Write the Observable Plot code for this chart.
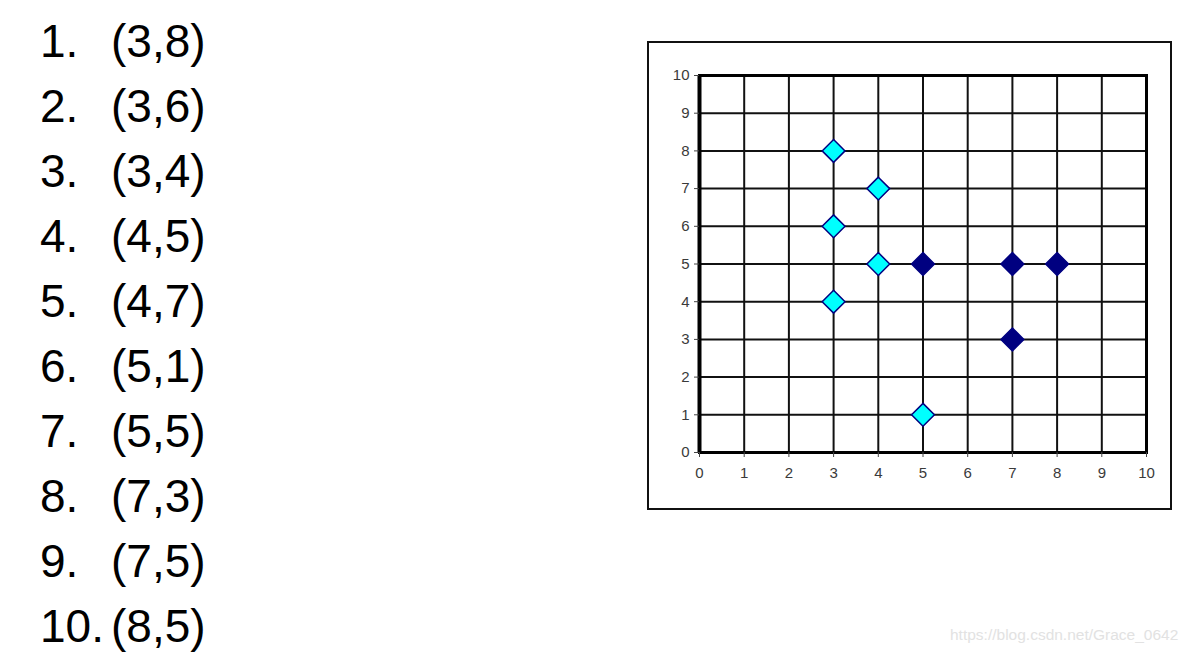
<!DOCTYPE html>
<html>
<head>
<meta charset="utf-8">
<script src="https://cdn.jsdelivr.net/npm/d3@7"></script>
<script src="https://cdn.jsdelivr.net/npm/@observablehq/plot@0.6"></script>
<style>
  html, body { margin: 0; padding: 0; background: #fff; }
  body { width: 1192px; height: 654px; position: relative; overflow: hidden; font-family: "Liberation Sans", Arial, sans-serif; }
  #list { position: absolute; left: 40px; top: 9px; font-size: 46px; line-height: 65px; color: #000; }
  #list .row { white-space: nowrap; }
  #list .num { display: inline-block; width: 71px; }
  #box { position: absolute; left: 647px; top: 41px; width: 525px; height: 469px; box-sizing: border-box; border: 2px solid #111; }
  #chart { position: absolute; left: 649px; top: 43px; }
  #wm { position: absolute; left: 950px; top: 626px; font-size: 15.5px; color: #e2e2e2; white-space: nowrap; }
</style>
</head>
<body>
<div id="list"></div>
<div id="box"></div>
<div id="chart"></div>
<div id="wm">https://blog.csdn.net/Grace_0642</div>
<script>
// Data
const xValues = [3, 3, 3, 4, 4, 5, 5, 7, 7, 8];
const yValues = [8, 6, 4, 5, 7, 1, 5, 3, 5, 5];
const clusters = ["A", "A", "A", "A", "A", "A", "B", "B", "B", "B"];
const xTicks = [0, 1, 2, 3, 4, 5, 6, 7, 8, 9, 10];
const yTicks = [0, 1, 2, 3, 4, 5, 6, 7, 8, 9, 10];
const clusterColors = ["#00FFFF", "#000080"];

const points = xValues.map((x, i) => ({ id: i + 1, x, y: yValues[i], cluster: clusters[i] }));

// Left list
const list = document.getElementById("list");
points.forEach(p => {
  const row = document.createElement("div");
  row.className = "row";
  const num = document.createElement("span");
  num.className = "num";
  num.textContent = p.id + ".";
  const pt = document.createElement("span");
  pt.textContent = "(" + p.x + "," + p.y + ")";
  row.appendChild(num);
  row.appendChild(pt);
  list.appendChild(row);
});

const chart = Plot.plot({
  width: 520,
  height: 464,
  marginLeft: 50,
  marginRight: 23,
  marginTop: 32,
  marginBottom: 55,
  style: { fontFamily: "'Liberation Sans', Arial, sans-serif", fontSize: "15px", color: "#333", background: "transparent" },
  x: { domain: [0, 10] },
  y: { domain: [0, 10] },
  color: { domain: ["A", "B"], range: clusterColors },
  marks: [
    Plot.gridX(xTicks, { stroke: "#111", strokeOpacity: 1, strokeWidth: 2 }),
    Plot.gridY(yTicks, { stroke: "#111", strokeOpacity: 1, strokeWidth: 2 }),
    Plot.frame({ stroke: "#000", strokeWidth: 3 }),
    Plot.ruleX([0], { stroke: "#000", strokeWidth: 4 }),
    Plot.axisX(xTicks, { tickSize: 5, tickPadding: 10, label: null, stroke: "#444", fill: "#3a3a3a", fontSize: 15 }),
    Plot.axisY(yTicks, { tickSize: 5, tickPadding: 5, label: null, stroke: "#444", fill: "#3a3a3a", fontSize: 15 }),
    Plot.dot(points, { x: "x", y: "y", symbol: "diamond2", r: 10.3, fill: "cluster", stroke: "#000080", strokeWidth: 1.5 })
  ]
});
document.getElementById("chart").appendChild(chart);
</script>
</body>
</html>
